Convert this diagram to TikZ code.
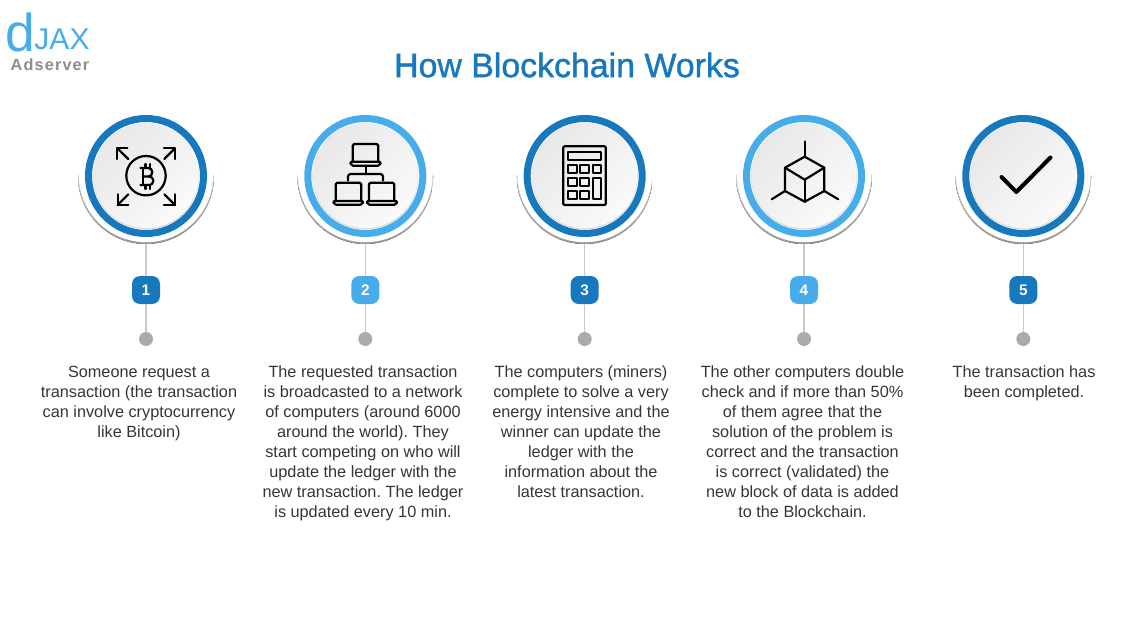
\documentclass[tikz,border=0pt]{standalone}
\usepackage{fontspec}
\setmainfont{Liberation Sans}
\usepackage{tikz}
\usepackage{color}
\definecolor{darkblue}{HTML}{1878BE}
\definecolor{lightblue}{HTML}{47ADEA}
\definecolor{stemgray}{HTML}{C9C9CB}
\definecolor{dotgray}{HTML}{A9A9AE}
\definecolor{bodytext}{HTML}{353535}

\begin{document}
\frenchspacing
\begin{tikzpicture}[x=0.75pt,y=-0.75pt,
  halo/.style={circle,inner sep=0pt,outer sep=0pt,minimum size=102pt,path picture={\fill[top color=white,bottom color=black!40] (path picture bounding box.west) rectangle (path picture bounding box.south east);}},
  cover/.style={circle,inner sep=0pt,outer sep=0pt,minimum size=100.8pt,fill=white},
  ring/.style={circle,inner sep=0pt,outer sep=0pt,minimum size=86.25pt,line width=5.25pt,draw=#1,fill=white},
  rim/.style={circle,inner sep=0pt,outer sep=0pt,minimum size=79.4pt,fill=black!15},
  disc/.style={circle,inner sep=0pt,outer sep=0pt,minimum size=79pt,top color=black!9,bottom color=black!2,shading angle=45},
  badge/.style={rectangle,rounded corners=6pt,inner sep=0pt,outer sep=0pt,minimum size=21pt,fill=#1,text=white,font=\fontsize{11.5}{12}\selectfont\bfseries},
  dot/.style={circle,inner sep=0pt,outer sep=0pt,minimum size=10.5pt,fill=dotgray},
  stem/.style={stemgray,line width=1pt},
  body/.style={anchor=north,align=center,inner sep=0pt,text=bodytext,font=\fontsize{12.2}{15}\selectfont},
  icon/.style={black,line width=1.65pt,line join=round,line cap=round}]
\useasboundingbox (0,0) rectangle (1135,638);
%% logo
\node[inner sep=0pt,text=lightblue,font=\fontsize{40}{40}\selectfont] (logod) at (20,32) {d};
\node[inner sep=0pt,text=lightblue,font=\fontsize{22.5}{23}\selectfont] (logoj) at (62,39) {JAX};
\node[inner sep=0pt,text=black!45,font=\fontsize{12.2}{13}\selectfont\bfseries] (logoa) at (50,64.5) {\addfontfeature{LetterSpace=7}Adserver};
%% title
\node[text=darkblue,font=\fontsize{25.4}{26}\selectfont] (title) at (567,65) {\addfontfeature{FakeBold=1.2}How Blockchain Works};
%% step 1
\node[halo] (halo1) at (146,176) {};
\node[cover] (cover1) at (146,175) {};
\node[ring=darkblue] (ring1) at (146,176) {};
\node[rim] (rim1) at (146,176.5) {};
\node[disc] (disc1) at (146,175.5) {};
\node[badge=darkblue] (badge1) at (146,290) {1};
\node[dot] (dot1) at (146,339) {};
\draw[stem] (halo1.south) -- (badge1);
\draw[stem] (badge1) -- (dot1);
\node[body] (text1) at (139,365.5) {Someone request a\\transaction (the transaction\\can involve cryptocurrency\\like Bitcoin)};
%% step 2
\node[halo] (halo2) at (365.3,176) {};
\node[cover] (cover2) at (365.3,175) {};
\node[ring=lightblue] (ring2) at (365.3,176) {};
\node[rim] (rim2) at (365.3,176.5) {};
\node[disc] (disc2) at (365.3,175.5) {};
\node[badge=lightblue] (badge2) at (365.3,290) {2};
\node[dot] (dot2) at (365.3,339) {};
\draw[stem] (halo2.south) -- (badge2);
\draw[stem] (badge2) -- (dot2);
\node[body] (text2) at (363,365.5) {The requested transaction\\is broadcasted to a network\\of computers (around 6000\\around the world). They\\start competing on who will\\update the ledger with the\\new transaction. The ledger\\is updated every 10 min.};
%% step 3
\node[halo] (halo3) at (584.7,176) {};
\node[cover] (cover3) at (584.7,175) {};
\node[ring=darkblue] (ring3) at (584.7,176) {};
\node[rim] (rim3) at (584.7,176.5) {};
\node[disc] (disc3) at (584.7,175.5) {};
\node[badge=darkblue] (badge3) at (584.7,290) {3};
\node[dot] (dot3) at (584.7,339) {};
\draw[stem] (halo3.south) -- (badge3);
\draw[stem] (badge3) -- (dot3);
\node[body] (text3) at (581,365.5) {The computers (miners)\\complete to solve a very\\energy intensive and the\\winner can update the\\ledger with the\\information about the\\latest transaction.};
%% step 4
\node[halo] (halo4) at (804,176) {};
\node[cover] (cover4) at (804,175) {};
\node[ring=lightblue] (ring4) at (804,176) {};
\node[rim] (rim4) at (804,176.5) {};
\node[disc] (disc4) at (804,175.5) {};
\node[badge=lightblue] (badge4) at (804,290) {4};
\node[dot] (dot4) at (804,339) {};
\draw[stem] (halo4.south) -- (badge4);
\draw[stem] (badge4) -- (dot4);
\node[body] (text4) at (802.5,365.5) {The other computers double\\check and if more than 50\%\\of them agree that the\\solution of the problem is\\correct and the transaction\\is correct (validated) the\\new block of data is added\\to the Blockchain.};
%% step 5
\node[halo] (halo5) at (1023.3,176) {};
\node[cover] (cover5) at (1023.3,175) {};
\node[ring=darkblue] (ring5) at (1023.3,176) {};
\node[rim] (rim5) at (1023.3,176.5) {};
\node[disc] (disc5) at (1023.3,175.5) {};
\node[badge=darkblue] (badge5) at (1023.3,290) {5};
\node[dot] (dot5) at (1023.3,339) {};
\draw[stem] (halo5.south) -- (badge5);
\draw[stem] (badge5) -- (dot5);
\node[body] (text5) at (1024,365.5) {The transaction has\\been completed.};
%% bitcoin
\draw[icon] (146,175.7) circle [radius=19.7];
\draw[icon] (140.5,168) -- (148.5,168) .. controls (153.5,168) and (153.5,176.5) .. (148.5,176.5) -- (143,176.5);
\draw[icon] (148.5,176.5) .. controls (155,176.5) and (155,185) .. (148.5,185) -- (140.5,185);
\draw[icon] (143,168) -- (143,185);
\draw[icon] (145.5,164) -- (145.5,168);
\draw[icon] (150,164) -- (150,168);
\draw[icon] (145.5,185) -- (145.5,189);
\draw[icon] (150,185) -- (150,189);
\draw[icon] (128.3,159) -- (117.3,148.3);
\draw[icon] (117.3,159) -- (117.3,148.3) -- (127.3,148.3);
\draw[icon] (164.3,159) -- (175,148.3);
\draw[icon] (164,148.3) -- (175,148.3) -- (175,159);
\draw[icon] (128.3,194.3) -- (117.7,205);
\draw[icon] (117.7,194.3) -- (117.7,205) -- (128.3,205);
\draw[icon] (164.3,194.3) -- (175,205);
\draw[icon] (175,194.3) -- (175,205) -- (164,205);
%% laptops
\draw[icon,rounded corners=1.2pt] (352.7,161.7) -- (352.7,144) -- (378.3,144) -- (378.3,161.7);
\draw[icon,rounded corners=1.5pt] (350,161.7) -- (381,161.7) -- (380,165.7) -- (351,165.7) -- cycle;
\draw[icon,rounded corners=1.2pt] (335.7,201) -- (335.7,182.7) -- (361.3,182.7) -- (361.3,201);
\draw[icon,rounded corners=1.5pt] (333,201) -- (363.5,201) -- (362.5,204.7) -- (334,204.7) -- cycle;
\draw[icon,rounded corners=1.2pt] (369,201) -- (369,182.7) -- (394.3,182.7) -- (394.3,201);
\draw[icon,rounded corners=1.5pt] (366.5,201) -- (397.5,201) -- (396.5,204.7) -- (367.5,204.7) -- cycle;
\draw[icon] (365.7,166) -- (365.7,174);
\draw[icon,rounded corners=2pt] (348,180.5) -- (348,174) -- (383,174) -- (383,180.5);
%% calculator
\draw[icon,rounded corners=.8pt] (563.3,146.3) rectangle (605.7,205);
\draw[icon] (568.3,151.7) rectangle (601.3,160);
\draw[icon] (568.3,165) rectangle (576.7,173.3);
\draw[icon] (580.3,165) rectangle (589,173.3);
\draw[icon] (592.7,165) rectangle (601.3,173.3);
\draw[icon] (568.3,177.7) rectangle (576.7,186);
\draw[icon] (580.3,177.7) rectangle (589,186);
\draw[icon] (568.3,190.7) rectangle (576.7,199.3);
\draw[icon] (580.3,190.7) rectangle (589,199.3);
\draw[icon] (592.7,177.7) rectangle (601.3,199.3);
%% cube
\draw[icon] (804.7,156.7) -- (824.3,167.7) -- (824.3,191) -- (804.7,201.7) -- (785,191) -- (785,167.7) -- cycle;
\draw[icon] (785,167.7) -- (804.7,179.7) -- (824.3,167.7);
\draw[icon] (804.7,179.7) -- (804.7,201.7);
\draw[icon] (804.7,156.7) -- (804.7,141.5);
\draw[icon] (785,191) -- (771.7,199.3);
\draw[icon] (824.3,191) -- (838.3,199.3);
%% check mark
\draw[icon,line width=3pt] (1001.5,177) -- (1016.3,192) -- (1050.5,157.5);
\end{tikzpicture}
\end{document}
